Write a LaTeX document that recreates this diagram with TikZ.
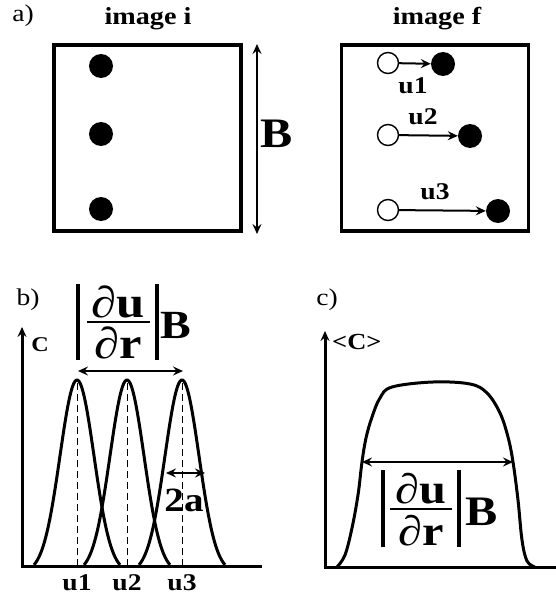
\documentclass[tikz,border=0pt]{standalone}
\usepackage{fontspec}
\setmainfont{Liberation Serif}[FakeStretch=1.15]
\usetikzlibrary{arrows.meta}

\tikzset{
	frame/.style={draw,line width=3.5pt,minimum width=187pt,minimum height=186pt,inner sep=0pt},
	fulldot/.style={circle,fill,minimum size=24pt,inner sep=0pt},
	emptydot/.style={circle,draw,line width=1.4pt,minimum size=21pt,inner sep=0pt},
	lbl/.style={font=\bfseries\fontsize{24}{26}\selectfont,inner sep=0pt},
	tag/.style={font=\fontsize{24}{26}\selectfont,inner sep=0pt},
	part/.style={font=\bfseries\fontsize{#1}{#1}\selectfont,inner sep=0pt,anchor=base},
	curve/.style={line width=3pt},
	bar/.style={line width=3.5pt},
	marker/.style={line width=1pt,dash pattern=on 7pt off 4pt},
}

\begin{document}
\begin{tikzpicture}[x=1pt,y=-1pt,>={Stealth[length=10pt,width=9pt,inset=3.5pt]}]
			
			\useasboundingbox (0,0) rectangle (555,599);
			
			% a) images
			\node[tag] (ta) at (23,16){a)};
			
			\node[frame] (boxi) at (147.5,138){};
			
			\node[frame] (boxf) at (435,138){};
			
			\node[lbl,font=\bfseries\fontsize{24.5}{26}\selectfont] (titlei) at (148,19){image i};
			
			\node[lbl,font=\bfseries\fontsize{24.5}{26}\selectfont] (titlef) at (437,19){image f};
			
			\foreach \n/\y in {1/66,2/134,3/209}
			{
				\node[fulldot] (i\n) at (101,\y){};
			}
			
			\foreach \n/\y/\x in {1/63/443,2/135/470,3/210/498}
			{
				\node[emptydot] (o\n) at (388,\y){};
				\node[fulldot] (f\n) at (\x,\y+1){};
				\draw[->,line width=2pt](o\n)--(f\n);
			}
			
			\node[lbl] (u1) at (413,86){u1};
			\node[lbl] (u2) at (423,117){u2};
			\node[lbl] (u3) at (435,192){u3};
			
			\coordinate (btop) at (257,44);
			\coordinate (bbot) at (257,234);
			\draw[<->,line width=2.2pt](btop)--(bbot);
			
			\node[lbl,font=\bfseries\fontsize{42}{44}\selectfont] (bsize) at (277,134){B};
			
			% b) single peaks
			\node[tag] (tb) at (28,300){b)};
			
			\coordinate (ob) at (22,566);
			\draw[<-,line width=3pt](22,327)--(ob)--(262,566);
			
			\node[lbl,font=\bfseries\fontsize{21}{24}\selectfont] (cb) at (40,345){C};
			
			\foreach \n/\p in {1/77,2/127,3/182}
			{
				\draw[curve] plot[domain=-43:43,samples=70] ({\p+\x},{566-186*(exp(-\x*\x/578)-0.035)/0.965});
				\coordinate (pk\n) at (\p,383);
				\coordinate (ft\n) at (\p,566);
				\draw[marker](pk\n)--(ft\n);
				\node[lbl] (ub\n) at (\p,583){u\n};
			}
			
			\coordinate (sl) at (78,371);
			\coordinate (sr) at (183,371);
			\draw[<->,line width=2.2pt](sl)--(sr);
			
			\draw[bar](78,284)--(78,360);
			\draw[bar](157,284)--(157,360);
			\draw[line width=2.5pt](87,322)--(150,322);
			\node[part=44] (numb) at (118.5,317){∂u};
			\node[part=44] (denb) at (118.5,358){∂r};
			\node[part=40,anchor=base west] (Bb) at (160,338){B};
			
			\coordinate (wl) at (166,473);
			\coordinate (wr) at (205,473);
			\draw[<->,line width=2.2pt](wl)--(wr);
			
			\node[lbl,font=\bfseries\fontsize{34}{36}\selectfont] (wa) at (184,500){2a};
			
			% c) mean
			\node[tag] (tc) at (327,300){c)};
			
			\coordinate (oc) at (325,567);
			\draw[<-,line width=3pt](325,331)--(oc)--(557,567);
			
			\node[lbl,font=\bfseries\fontsize{23}{26}\selectfont,anchor=west] (cc) at (332,342){<C>};
			
			\draw[curve] plot[smooth,tension=0.6] coordinates {(337,567) (345,555) (352,528) (358,495) (362,462) (366,438) (372,417) (380,398) (392,387) (433,382) (470,384) (487,393) (500,413) (508,437) (513,462) (518,500) (522,540) (527,561) (535,567)};
			
			\coordinate (hl) at (362,462);
			\coordinate (hr) at (513,462);
			\draw[<->,line width=2.2pt](hl)--(hr);
			
			\draw[bar](383,470)--(383,547);
			\draw[bar](459,470)--(459,547);
			\draw[line width=2.5pt](390,509)--(452,509);
			\node[part=42] (numc) at (421,503){∂u};
			\node[part=42] (denc) at (421,545){∂r};
			\node[part=42,anchor=base west] (Bc) at (465,525){B};
			
		\end{tikzpicture}
\end{document}
